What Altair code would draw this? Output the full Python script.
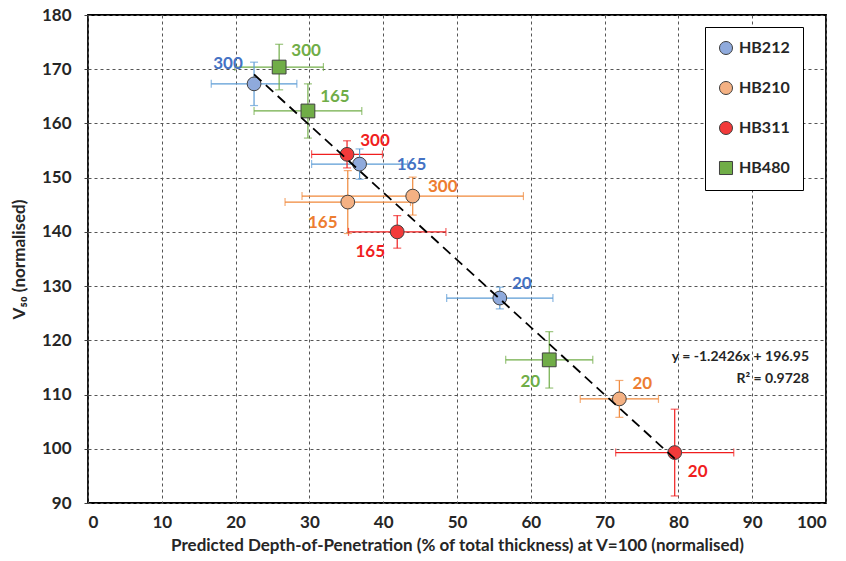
import altair as alt
import pandas as pd

# ---- data ----
series = ["HB212", "HB212", "HB212",
          "HB210", "HB210", "HB210",
          "HB311", "HB311", "HB311",
          "HB480", "HB480", "HB480"]
labels = ["300", "165", "20"] * 4
dop = [22.5, 36.8, 55.8,
       44.0, 35.2, 72.0,
       35.1, 41.9, 79.5,
       25.9, 29.8, 62.5]
v50 = [167.3, 152.5, 127.8,
       146.6, 145.5, 109.2,
       154.3, 140.0, 99.3,
       170.4, 162.3, 116.4]
dop_err = [5.8, 6.5, 7.2,
           15.0, 8.5, 5.3,
           4.8, 6.6, 8.0,
           6.0, 7.3, 5.9]
v50_err = [4.0, 2.8, 2.0,
           3.5, 5.8, 3.4,
           2.5, 3.0, 8.0,
           4.2, 5.0, 5.2]
eq_lines = ["y = -1.2426x + 196.95", "R\u00b2 = 0.9728"]

order = ["HB212", "HB210", "HB311", "HB480"]
marker_fill = ["#8FAADC", "#F4B183", "#F23A3A", "#70AD47"]
bar_col = ["#5B9BD5", "#F0883A", "#F01E1E", "#70AD47"]
label_col = ["#4472C4", "#ED7D31", "#F01E1E", "#70AD47"]
shapes = ["circle", "circle", "circle", "square"]

df = pd.DataFrame({"series": series, "label": labels, "dop": dop, "v50": v50,
                   "dop_err": dop_err, "v50_err": v50_err})
df["xlo"] = df["dop"] - df["dop_err"]
df["xhi"] = df["dop"] + df["dop_err"]
df["ylo"] = df["v50"] - df["v50_err"]
df["yhi"] = df["v50"] + df["v50_err"]

FONT = "Lato"
xs = alt.Scale(domain=[0, 100], nice=False, zero=False)
ys = alt.Scale(domain=[90, 180], nice=False, zero=False)
x_axis = alt.Axis(values=list(range(0, 101, 10)), tickSize=0, labelPadding=11,
                  title="Predicted Depth-of-Penetration (% of total thickness) at V=100 (normalised)")
y_axis = alt.Axis(values=list(range(90, 181, 10)), tickSize=4, title="V\u2085\u2080 (normalised)")

base = alt.Chart(df)
barc = alt.Color("series:N", scale=alt.Scale(domain=order, range=bar_col), legend=None)

hbar = base.mark_rule(strokeWidth=1.2).encode(
    x=alt.X("xlo:Q", scale=xs, axis=x_axis), x2="xhi:Q",
    y=alt.Y("v50:Q", scale=ys, axis=y_axis), color=barc)
vbar = base.mark_rule(strokeWidth=1.2).encode(
    x=alt.X("dop:Q", scale=xs), y=alt.Y("ylo:Q", scale=ys), y2="yhi:Q", color=barc)
cap_l = base.mark_tick(orient="vertical", size=8, thickness=1.2).encode(
    x=alt.X("xlo:Q", scale=xs), y=alt.Y("v50:Q", scale=ys), color=barc)
cap_r = base.mark_tick(orient="vertical", size=8, thickness=1.2).encode(
    x=alt.X("xhi:Q", scale=xs), y=alt.Y("v50:Q", scale=ys), color=barc)
cap_b = base.mark_tick(orient="horizontal", size=8, thickness=1.2).encode(
    x=alt.X("dop:Q", scale=xs), y=alt.Y("ylo:Q", scale=ys), color=barc)
cap_t = base.mark_tick(orient="horizontal", size=8, thickness=1.2).encode(
    x=alt.X("dop:Q", scale=xs), y=alt.Y("yhi:Q", scale=ys), color=barc)

leg = alt.Legend(title=None, orient="none", legendX=617, legendY=12,
                 strokeColor="black", fillColor="white", padding=13,
                 rowPadding=22, symbolSize=170, symbolStrokeColor="#404040",
                 symbolStrokeWidth=1, labelFontSize=16, labelFont=FONT,
                 labelFontWeight="bold", labelColor="#262626", labelOffset=5)

points = base.mark_point(filled=True, size=190, strokeWidth=1, opacity=1).encode(
    x=alt.X("dop:Q", scale=xs), y=alt.Y("v50:Q", scale=ys),
    fill=alt.Fill("series:N", scale=alt.Scale(domain=order, range=marker_fill), legend=leg),
    stroke=alt.Stroke("series:N", scale=alt.Scale(domain=order, range=["#404040"] * 4),
                      legend=leg),
    shape=alt.Shape("series:N", scale=alt.Scale(domain=order, range=shapes), legend=leg))

trend = base.transform_regression("dop", "v50").mark_line(
    color="black", strokeDash=[10, 6], strokeWidth=1.8).encode(
    x=alt.X("dop:Q", scale=xs), y=alt.Y("v50:Q", scale=ys))

# text offsets (pixels) for each point label
offsets = {
    ("HB212", "300"): (-26, -20), ("HB212", "165"): (52, 1), ("HB212", "20"): (22, -14),
    ("HB210", "300"): (30, -9), ("HB210", "165"): (-25, 21), ("HB210", "20"): (23, -15),
    ("HB311", "300"): (28, -13), ("HB311", "165"): (-27, 20), ("HB311", "20"): (23, 19),
    ("HB480", "300"): (27, -16), ("HB480", "165"): (27, -14), ("HB480", "20"): (-19, 22),
}
text_layers = []
for (s, l), (ddx, ddy) in offsets.items():
    text_layers.append(
        base.transform_filter((alt.datum.series == s) & (alt.datum.label == l))
        .mark_text(dx=ddx, dy=ddy, font=FONT, fontSize=17, fontWeight="bold")
        .encode(x=alt.X("dop:Q", scale=xs), y=alt.Y("v50:Q", scale=ys), text="label:N",
                color=alt.Color("series:N", scale=alt.Scale(domain=order, range=label_col),
                                legend=None)))

eq_df = pd.DataFrame({"t": eq_lines, "k": [0, 1]})
eq1 = alt.Chart(eq_df).transform_filter(alt.datum.k == 0).mark_text(
    align="right", font=FONT, fontSize=14, fontWeight="bold", color="#262626").encode(
    x=alt.datum(97.7, scale=xs), y=alt.datum(116.9, scale=ys), text="t:N")
eq2 = alt.Chart(eq_df).transform_filter(alt.datum.k == 1).mark_text(
    align="right", font=FONT, fontSize=14, fontWeight="bold", color="#262626").encode(
    x=alt.datum(97.7, scale=xs), y=alt.datum(112.9, scale=ys), text="t:N")

chart = alt.layer(hbar, vbar, cap_l, cap_r, cap_b, cap_t, points, trend,
                  *text_layers, eq1, eq2).resolve_scale(
    color="independent", fill="independent", shape="independent", stroke="independent"
).properties(
    width=738, height=488,
    autosize=alt.AutoSizeParams(type="none"),
    padding={"left": 88, "top": 15, "right": 20, "bottom": 58},
    background="white",
).configure_view(
    stroke="black", strokeWidth=1.8
).configure_axis(
    grid=True, gridColor="#555555", gridDash=[3, 3], gridWidth=1,
    domain=False, tickColor="#404040",
    labelFont=FONT, labelFontSize=17, labelFontWeight="bold", labelColor="#262626",
    titleFont=FONT, titleFontSize=17, titleFontWeight="bold", titleColor="#262626",
).configure_axisX(
    titlePadding=7
).configure_axisY(
    labelPadding=13, titlePadding=13
)

chart.save("out.html", embed_options={"renderer": "svg", "actions": False})
